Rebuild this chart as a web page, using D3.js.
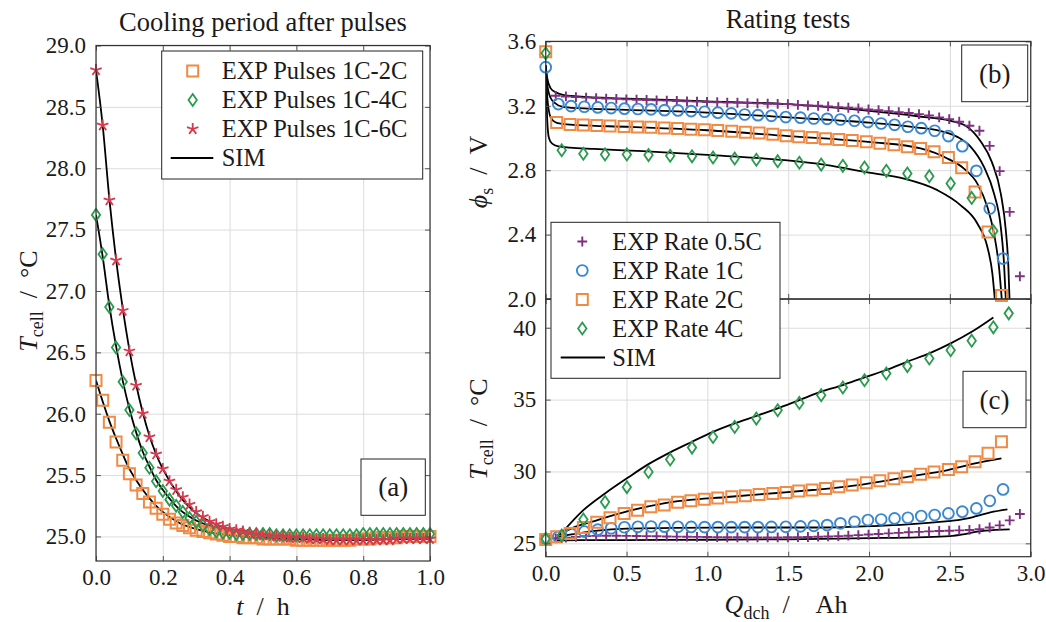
<!DOCTYPE html>
<html>
<head>
<meta charset="utf-8">
<script src="https://cdn.jsdelivr.net/npm/d3@7"></script>
<style>
  body { margin: 0; background: #fff; }
  svg { display: block; font-family: "Liberation Serif", "Times New Roman", serif; }
</style>
</head>
<body>
<svg id="chart" width="1046" height="622"></svg>
<script>
// ---------- Panel (a): cooling period after pulses ----------
const tPulse = [0.00,0.02,0.04,0.06,0.08,0.10,0.12,0.14,0.16,0.18,0.20,0.22,0.24,0.26,0.28,0.30,0.32,0.34,0.36,0.38,
                0.40,0.42,0.44,0.46,0.48,0.50,0.52,0.54,0.56,0.58,0.60,0.62,0.64,0.66,0.68,0.70,0.72,0.74,0.76,0.78,
                0.80,0.82,0.84,0.86,0.88,0.90,0.92,0.94,0.96,0.98,1.00];
const expPulse2C = [26.27,26.11,25.93,25.77,25.62,25.51,25.42,25.35,25.28,25.23, 25.18,25.14,25.11,25.09,25.07,25.05,25.04,25.03,25.02,25.01,
                    25.00,25.00,24.99,24.99,24.99,24.98,24.98,24.98,24.98,24.98, 24.97,24.97,24.97,24.97,24.97,24.97,24.97,24.97,24.97,24.98,
                    24.98,24.98,24.99,24.99,24.99,24.99,25.00,25.00,25.00,25.00, 25.00];
const expPulse4C = [27.62,27.30,26.87,26.54,26.26,26.03,25.84,25.68,25.56,25.45, 25.37,25.30,25.25,25.20,25.15,25.12,25.09,25.06,25.04,25.03,
                    25.03,25.02,25.02,25.02,25.02,25.02,25.02,25.01,25.01,25.01, 25.01,25.01,25.01,25.01,25.01,25.01,25.01,25.01,25.01,25.01,
                    25.02,25.02,25.02,25.02,25.02,25.02,25.02,25.02,25.02,25.02, 25.02];
const expPulse6C = [28.80,28.35,27.74,27.25,26.84,26.51,26.23,26.00,25.81,25.67, 25.55,25.45,25.38,25.32,25.26,25.20,25.16,25.12,25.10,25.08,
                    25.06,25.05,25.04,25.03,25.02,25.01,25.01,25.00,25.00,24.99, 24.99,24.99,24.98,24.98,24.98,24.97,24.97,24.97,24.97,24.97,
                    24.97,24.97,24.97,24.97,24.97,24.98,24.98,24.98,24.98,24.98, 24.98];
const tPulseSim = [0.00,0.02,0.04,0.06,0.08,0.10,0.12,0.14,0.16,0.18,0.20,0.25,0.30,0.35,0.40,0.50,0.60,0.70,0.80,0.90,1.00];
const simPulse2C = [26.27,26.10,25.94,25.80,25.67,25.55,25.46,25.38,25.31,25.25,25.20,25.11,25.06,25.03,25.01,24.99,24.98,24.97,24.97,24.98,24.99];
const simPulse4C = [27.62,27.28,26.88,26.55,26.27,26.04,25.85,25.69,25.57,25.46,25.38,25.22,25.13,25.08,25.05,25.02,25.01,25.01,25.01,25.01,25.01];
const simPulse6C = [28.80,28.35,27.75,27.26,26.86,26.52,26.24,26.01,25.82,25.67,25.55,25.33,25.19,25.11,25.06,25.01,24.99,24.98,24.98,24.98,24.98];
const pulseXTicks = [0, 0.2, 0.4, 0.6, 0.8, 1.0];
const pulseYTicks = [25.0, 25.5, 26.0, 26.5, 27.0, 27.5, 28.0, 28.5, 29.0];

// ---------- Panels (b), (c): rating tests ----------
const qRate05 = [0.062,0.125,0.187,0.250,0.312,0.374,0.437,0.499,0.562,0.624,0.686,0.749,0.811,0.874,0.936,0.998,1.061,1.123,1.186,1.248,
                 1.310,1.373,1.435,1.498,1.560,1.622,1.685,1.747,1.810,1.872,1.934,1.997,2.059,2.122,2.184,2.246,2.309,2.371,2.434,2.496,
                 2.558,2.621,2.683,2.746,2.808,2.870,2.933];
const vRate05 = [3.262,3.258,3.254,3.251,3.248,3.245,3.243,3.240,3.238,3.236,3.234,3.232,3.230,3.228,3.226,3.224,3.222,3.220,3.219,3.217,
                 3.215,3.213,3.212,3.211,3.206,3.202,3.200,3.196,3.192,3.188,3.184,3.177,3.173,3.167,3.161,3.155,3.148,3.140,3.128,3.117,
                 3.101,3.076,3.045,2.951,2.794,2.541,2.141];
const tRate05 = [25.35,25.40,25.45,25.50,25.52,25.53,25.53,25.52,25.51,25.50,25.49,25.48,25.47,25.46,25.45,25.44,25.43,25.42,25.42,25.41,
                 25.41,25.41,25.41,25.42,25.43,25.44,25.46,25.48,25.50,25.53,25.57,25.61,25.65,25.69,25.73,25.77,25.80,25.83,25.86,25.88,
                 25.90,25.93,25.98,26.10,26.25,26.60,27.04];

const qRate1 = [0.000,0.078,0.157,0.239,0.322,0.405,0.487,0.570,0.652,0.735,0.818,0.900,0.983,1.065,1.148,1.231,1.313,1.396,1.485,1.576,
                1.658,1.741,1.823,1.910,1.993,2.075,2.158,2.240,2.323,2.406,2.491,2.577,2.664,2.747,2.829];
const vRate1 = [3.440,3.211,3.198,3.194,3.190,3.186,3.182,3.180,3.178,3.173,3.171,3.167,3.163,3.157,3.153,3.146,3.142,3.138,3.130,3.126,
                3.121,3.119,3.115,3.107,3.099,3.090,3.082,3.070,3.061,3.045,3.012,2.949,2.796,2.562,2.251];
const tRate1 = [25.30,25.45,25.65,25.82,25.95,26.05,26.12,26.15,26.17,26.16,26.15,26.14,26.13,26.13,26.13,26.13,26.13,26.14,26.15,26.18,
                26.22,26.27,26.39,26.50,26.62,26.66,26.73,26.78,26.90,26.97,27.08,27.20,27.43,27.96,28.75];

const qRate2 = [0.000,0.068,0.151,0.233,0.316,0.398,0.485,0.568,0.650,0.733,0.816,0.898,0.981,1.064,1.151,1.235,1.320,1.405,1.487,1.565,
                1.648,1.731,1.813,1.896,1.983,2.067,2.154,2.237,2.319,2.402,2.491,2.573,2.656,2.736,2.819];
const vRate2 = [3.536,3.097,3.084,3.081,3.078,3.075,3.072,3.069,3.066,3.062,3.059,3.055,3.051,3.047,3.042,3.036,3.031,3.024,3.014,3.007,
                3.003,2.995,2.991,2.985,2.976,2.968,2.958,2.945,2.935,2.914,2.879,2.815,2.665,2.416,2.022];
const tRate2 = [25.27,25.46,25.69,26.11,26.46,26.78,27.08,27.31,27.55,27.66,27.85,27.96,28.06,28.15,28.24,28.31,28.40,28.47,28.54,28.64,
                28.71,28.82,28.94,29.05,29.22,29.35,29.49,29.63,29.80,29.96,30.14,30.33,30.68,31.26,32.07];

const qRate4 = [0.000,0.099,0.233,0.367,0.502,0.636,0.770,0.905,1.035,1.169,1.303,1.435,1.569,1.704,1.838,1.972,2.107,2.237,2.373,2.505,
                2.635,2.769,2.864];
const vRate4 = [3.526,2.924,2.902,2.898,2.898,2.894,2.890,2.886,2.879,2.873,2.865,2.856,2.846,2.835,2.827,2.817,2.796,2.779,2.763,2.717,
                2.628,2.423,1.930];
const tRate4 = [25.31,25.54,26.66,27.87,28.91,29.96,30.84,31.66,32.40,33.10,33.68,34.26,34.77,35.31,35.84,36.35,36.82,37.33,37.86,38.44,
                39.10,40.03,41.00];

// simulated voltage curves
const qSimV05 = [0,0.01,0.03,0.06,0.10,0.20,0.50,1.00,1.50,2.00,2.30,2.50,2.60,2.69,2.76,2.815,2.846,2.862,2.869];
const vSim05  = [3.45,3.37,3.31,3.285,3.27,3.258,3.245,3.228,3.21,3.168,3.135,3.108,3.075,2.98,2.85,2.655,2.427,2.198,2.0];
const qSimV1  = [0,0.01,0.03,0.06,0.10,0.20,0.50,1.00,1.50,2.00,2.30,2.42,2.546,2.629,2.711,2.773,2.815,2.835,2.846];
const vSim1   = [3.45,3.33,3.25,3.215,3.195,3.185,3.175,3.158,3.128,3.095,3.065,3.049,3.007,2.945,2.82,2.655,2.447,2.22,2.0];
const qSimV2  = [0,0.01,0.03,0.06,0.10,0.20,0.50,1.00,1.50,2.01,2.319,2.484,2.587,2.67,2.732,2.773,2.804,2.821];
const vSim2   = [3.45,3.25,3.13,3.098,3.088,3.08,3.07,3.048,3.012,2.975,2.935,2.873,2.81,2.717,2.572,2.406,2.198,2.0];
const qSimV4  = [0,0.01,0.02,0.04,0.08,0.15,0.30,0.60,1.00,1.48,1.73,2.01,2.216,2.423,2.567,2.67,2.732,2.763,2.778];
const vSim4   = [3.45,3.10,3.00,2.965,2.948,2.94,2.932,2.918,2.895,2.862,2.833,2.783,2.748,2.676,2.582,2.469,2.323,2.157,2.0];

// simulated temperature curves
const qSimT05 = [0.07,0.20,0.50,1.00,1.50,2.00,2.30,2.50,2.58,2.65,2.72,2.87];
const tSim05  = [25.20,25.22,25.23,25.25,25.28,25.36,25.42,25.50,25.62,25.78,25.88,25.97];
const qSimT1  = [0.07,0.15,0.32,0.50,0.80,1.20,1.45,1.72,2.03,2.24,2.49,2.55,2.65,2.75,2.856];
const tSim1   = [25.45,25.60,25.88,26.02,26.08,26.10,26.10,26.10,26.20,26.32,26.55,26.62,26.85,27.15,27.36];
const qSimT2  = [0.07,0.16,0.32,0.52,0.73,1.14,1.45,1.65,1.86,2.07,2.237,2.487,2.656,2.819];
const tSim2   = [25.55,26.04,26.62,27.27,27.78,28.24,28.52,28.71,28.94,29.29,29.63,30.10,30.56,30.91];
const qSimT4  = [0.09,0.233,0.367,0.502,0.636,0.770,0.905,1.035,1.169,1.303,1.435,1.569,1.704,1.838,1.972,2.107,2.237,2.373,2.505,2.635,2.769];
const tSim4   = [25.60,27.31,28.47,29.52,30.51,31.33,32.07,32.76,33.35,33.86,34.39,34.97,35.55,36.01,36.55,37.06,37.64,38.22,38.91,39.72,40.72];

const rateXTicks = [0, 0.5, 1.0, 1.5, 2.0, 2.5, 3.0];
const voltTicks = [2.0, 2.4, 2.8, 3.2, 3.6];
const tempTicks = [25, 30, 35, 40];

// ---------- drawing ----------
const COL = { orange: "#f08a45", green: "#2b9a4f", red: "#d6384d", blue: "#3a88d2", purple: "#7e2f80" };
const FS = 23;        // tick labels
const FS_LEG = 24.5;  // legend entries
const FS_LAB = 26;    // axis labels
const svg = d3.select("#chart");

const markerPath = {
  square:  "M-5.5,-5.5H5.5V5.5H-5.5Z",
  diamond: "M0,-6L4.2,0L0,6L-4.2,0Z",
  circle:  "M5.4,0A5.4,5.4 0 1,1 -5.4,0A5.4,5.4 0 1,1 5.4,0Z",
  plus:    "M-4.9,0H4.9M0,-4.9V4.9",
  star:    d3.range(5).map(k => {
             const a = (-90 + 72 * k) * Math.PI / 180;
             return `M0,0L${(6 * Math.cos(a)).toFixed(2)},${(6 * Math.sin(a)).toFixed(2)}`;
           }).join("")
};
const markerWidth = { square: 2.0, diamond: 1.8, circle: 1.9, plus: 1.9, star: 1.8 };

function drawMarkers(g, xs, ys, type, color, x, y, keep) {
  const pts = xs.map((d, i) => [d, ys[i]]).filter(p => !keep || keep(p[1]));
  g.append("g").selectAll("path").data(pts).join("path")
    .attr("transform", p => `translate(${x(p[0])},${y(p[1])})`)
    .attr("d", markerPath[type])
    .attr("fill", "none").attr("stroke", color)
    .attr("stroke-width", markerWidth[type])
    .attr("stroke-linejoin", "miter");
}

function drawSim(g, xs, ys, x, y) {
  const line = d3.line().x(p => x(p[0])).y(p => y(p[1])).curve(d3.curveMonotoneX);
  g.append("path").attr("d", line(xs.map((d, i) => [d, ys[i]])))
    .attr("fill", "none").attr("stroke", "#000").attr("stroke-width", 1.8);
}

function styleAxis(s) {
  s.select(".domain").remove();
  s.attr("font-size", FS).attr("font-family", null);
  s.selectAll(".tick line").attr("stroke", "#555");
  s.selectAll(".tick text").attr("fill", "#1a1a1a");
}

function panelFrame(x, y, xt, yt) {
  const [x0, x1] = x.range();
  const [yb, ytop] = y.range();
  const g = svg.append("g");
  // grid
  g.append("g").attr("transform", `translate(0,${yb})`)
    .call(d3.axisBottom(x).tickValues(xt).tickSize(-(yb - ytop)).tickFormat(""))
    .call(s => { s.select(".domain").remove(); s.selectAll("line").attr("stroke", "#dcdcdc"); });
  g.append("g").attr("transform", `translate(${x0},0)`)
    .call(d3.axisLeft(y).tickValues(yt).tickSize(-(x1 - x0)).tickFormat(""))
    .call(s => { s.select(".domain").remove(); s.selectAll("line").attr("stroke", "#dcdcdc"); });
  const clipId = "clip" + Math.round(x0) + "_" + Math.round(ytop);
  svg.append("clipPath").attr("id", clipId).append("rect")
    .attr("x", x0).attr("y", ytop).attr("width", x1 - x0).attr("height", yb - ytop);
  const lines = svg.append("g").attr("clip-path", `url(#${clipId})`);
  const marks = svg.append("g");
  return { g, lines, marks, x0, x1, yb, ytop };
}

function panelAxes(p, x, y, xt, yt, opts) {
  const g = svg.append("g");
  g.append("g").attr("transform", `translate(0,${p.yb})`)
    .call(d3.axisBottom(x).tickValues(xt).tickSizeInner(-5).tickSizeOuter(0).tickPadding(8)
      .tickFormat(opts.showX ? d3.format(".1f") : ""))
    .call(styleAxis);
  g.append("g").attr("transform", `translate(0,${p.ytop})`)
    .call(d3.axisTop(x).tickValues(xt).tickSizeInner(-5).tickSizeOuter(0).tickFormat(""))
    .call(styleAxis);
  g.append("g").attr("transform", `translate(${p.x0},0)`)
    .call(d3.axisLeft(y).tickValues(yt).tickSizeInner(-5).tickSizeOuter(0).tickPadding(opts.padY)
      .tickFormat(d3.format(opts.yFmt)))
    .call(styleAxis);
  g.append("g").attr("transform", `translate(${p.x1},0)`)
    .call(d3.axisRight(y).tickValues(yt).tickSizeInner(-5).tickSizeOuter(0).tickFormat(""))
    .call(styleAxis);
  g.append("rect").attr("x", p.x0).attr("y", p.ytop).attr("width", p.x1 - p.x0).attr("height", p.yb - p.ytop)
    .attr("fill", "none").attr("stroke", "#333").attr("stroke-width", 1.2);
}

function tagBox(x0, y0, x1, y1, label) {
  svg.append("rect").attr("x", x0).attr("y", y0).attr("width", x1 - x0).attr("height", y1 - y0)
    .attr("fill", "#fff").attr("stroke", "#222").attr("stroke-width", 1);
  svg.append("text").attr("x", (x0 + x1) / 2).attr("y", (y0 + y1) / 2).attr("dy", "0.34em")
    .attr("text-anchor", "middle").attr("font-size", 27).attr("fill", "#1a1a1a").text(label);
}

function legend(x0, y0, x1, y1, rows, mx, lx0, lx1, tx, ry0, dy) {
  const g = svg.append("g");
  g.append("rect").attr("x", x0).attr("y", y0).attr("width", x1 - x0).attr("height", y1 - y0)
    .attr("fill", "#fff").attr("stroke", "#222").attr("stroke-width", 1);
  rows.forEach((r, i) => {
    const cy = ry0 + i * dy;
    if (r.type === "line") {
      g.append("line").attr("x1", lx0).attr("x2", lx1).attr("y1", cy).attr("y2", cy)
        .attr("stroke", "#000").attr("stroke-width", 1.8);
    } else {
      g.append("path").attr("transform", `translate(${mx},${cy})`).attr("d", markerPath[r.type])
        .attr("fill", "none").attr("stroke", r.color).attr("stroke-width", markerWidth[r.type]);
    }
    g.append("text").attr("x", tx).attr("y", cy).attr("dy", "0.34em").attr("font-size", FS_LEG)
      .attr("fill", "#1a1a1a").text(r.label);
  });
}

// ----- panel (a) -----
const xA = d3.scaleLinear().domain([0, 1]).range([96, 430]);
const yA = d3.scaleLinear().domain([24.8, 29.0]).range([561, 45.5]);
const pA = panelFrame(xA, yA, pulseXTicks, pulseYTicks);
drawSim(pA.lines, tPulseSim, simPulse2C, xA, yA);
drawSim(pA.lines, tPulseSim, simPulse4C, xA, yA);
drawSim(pA.lines, tPulseSim, simPulse6C, xA, yA);
drawMarkers(pA.marks, tPulse, expPulse2C, "square", COL.orange, xA, yA);
drawMarkers(pA.marks, tPulse, expPulse4C, "diamond", COL.green, xA, yA);
drawMarkers(pA.marks, tPulse, expPulse6C, "star", COL.red, xA, yA);
panelAxes(pA, xA, yA, pulseXTicks, pulseYTicks, { showX: true, yFmt: ".1f", padY: 10 });
legend(161.7, 51, 422.7, 179, [
  { type: "square", color: COL.orange, label: "EXP Pulses 1C-2C" },
  { type: "diamond", color: COL.green, label: "EXP Pulses 1C-4C" },
  { type: "star", color: COL.red, label: "EXP Pulses 1C-6C" },
  { type: "line", label: "SIM" }
], 192.7, 170.7, 213.3, 221.7, 71, 29);
tagBox(361, 459, 425.3, 515.3, "(a)");

// ----- panel (b) -----
const xR = d3.scaleLinear().domain([0, 3]).range([545.7, 1030.7]);
const yB = d3.scaleLinear().domain([2.0, 3.6]).range([299, 41.4]);
const pB = panelFrame(xR, yB, rateXTicks, voltTicks);
drawSim(pB.lines, qSimV05, vSim05, xR, yB);
drawSim(pB.lines, qSimV1, vSim1, xR, yB);
drawSim(pB.lines, qSimV2, vSim2, xR, yB);
drawSim(pB.lines, qSimV4, vSim4, xR, yB);
const inVolt = v => v >= 2.0;
drawMarkers(pB.marks, qRate05, vRate05, "plus", COL.purple, xR, yB, inVolt);
drawMarkers(pB.marks, qRate1, vRate1, "circle", COL.blue, xR, yB, inVolt);
drawMarkers(pB.marks, qRate2, vRate2, "square", COL.orange, xR, yB, inVolt);
drawMarkers(pB.marks, qRate4, vRate4, "diamond", COL.green, xR, yB, inVolt);

// ----- panel (c) -----
const yC = d3.scaleLinear().domain([24.07, 42.0]).range([556.7, 299]);
const pC = panelFrame(xR, yC, rateXTicks, tempTicks);
drawSim(pC.lines, qSimT05, tSim05, xR, yC);
drawSim(pC.lines, qSimT1, tSim1, xR, yC);
drawSim(pC.lines, qSimT2, tSim2, xR, yC);
drawSim(pC.lines, qSimT4, tSim4, xR, yC);
drawMarkers(pC.marks, qRate05, tRate05, "plus", COL.purple, xR, yC);
drawMarkers(pC.marks, qRate1, tRate1, "circle", COL.blue, xR, yC);
drawMarkers(pC.marks, qRate2, tRate2, "square", COL.orange, xR, yC);
drawMarkers(pC.marks, qRate4, tRate4, "diamond", COL.green, xR, yC);

panelAxes(pB, xR, yB, rateXTicks, voltTicks, { showX: false, yFmt: ".1f", padY: 9.5 });
panelAxes(pC, xR, yC, rateXTicks, tempTicks, { showX: true, yFmt: "d", padY: 9.5 });
tagBox(961.7, 45, 1027.7, 101.7, "(b)");
tagBox(963, 371.3, 1026, 427.7, "(c)");
legend(551, 222.3, 780, 378.3, [
  { type: "plus", color: COL.purple, label: "EXP Rate 0.5C" },
  { type: "circle", color: COL.blue, label: "EXP Rate 1C" },
  { type: "square", color: COL.orange, label: "EXP Rate 2C" },
  { type: "diamond", color: COL.green, label: "EXP Rate 4C" },
  { type: "line", label: "SIM" }
], 582.3, 560.7, 605, 612.3, 241.5, 29);

// ----- titles and axis labels -----
const SP = "\u2002"; // en space around the slash
function label(x, y, rotate, parts) {
  const t = svg.append("text").attr("font-size", FS_LAB).attr("fill", "#1a1a1a")
    .attr("text-anchor", "middle")
    .attr("transform", `translate(${x},${y})` + (rotate ? " rotate(-90)" : ""));
  parts.forEach(p => {
    const s = t.append("tspan").text(p.t);
    if (p.i) s.attr("font-style", "italic");
    if (p.sub) s.attr("font-size", 18).attr("dy", 6);
    if (p.up) s.attr("dy", -6);
  });
  return t;
}
svg.append("text").attr("x", 263).attr("y", 31).attr("text-anchor", "middle").attr("font-size", 26.5)
  .attr("fill", "#1a1a1a").text("Cooling period after pulses");
svg.append("text").attr("x", 788).attr("y", 28).attr("text-anchor", "middle").attr("font-size", 26.5)
  .attr("fill", "#1a1a1a").text("Rating tests");

label(263, 615, false, [{ t: "t", i: true }, { t: SP + "/" + SP + "h" }]);
label(786, 613, false, [{ t: "Q", i: true }, { t: "dch", sub: true }, { t: SP + "/" + SP + SP + "Ah", up: true }]);
label(37, 301, true, [{ t: "T", i: true }, { t: "cell", sub: true }, { t: SP + "/" + SP + "°C", up: true }]);
label(487, 172, true, [{ t: "\u03D5", i: true }, { t: "s", sub: true }, { t: SP + "/" + SP + "V", up: true }]);
label(487, 429, true, [{ t: "T", i: true }, { t: "cell", sub: true }, { t: SP + "/" + SP + "°C", up: true }]);
</script>
</body>
</html>
